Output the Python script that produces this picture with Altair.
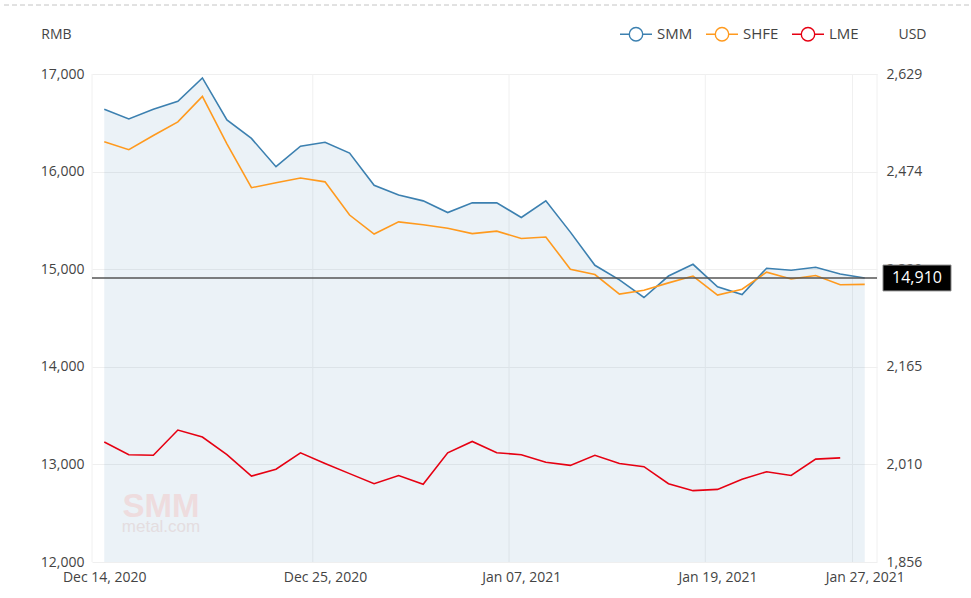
import altair as alt
import pandas as pd

# ---------------- data ----------------
DATES = [
    "2020-12-14", "2020-12-15", "2020-12-16", "2020-12-17", "2020-12-18",
    "2020-12-21", "2020-12-22", "2020-12-23", "2020-12-24", "2020-12-25",
    "2020-12-28", "2020-12-29", "2020-12-30", "2020-12-31",
    "2021-01-04", "2021-01-05", "2021-01-06", "2021-01-07", "2021-01-08",
    "2021-01-11", "2021-01-12", "2021-01-13", "2021-01-14", "2021-01-15",
    "2021-01-18", "2021-01-19", "2021-01-20", "2021-01-21", "2021-01-22",
    "2021-01-25", "2021-01-26", "2021-01-27",
]
SMM = [16640, 16540, 16640, 16720, 16960, 16530, 16340, 16050, 16260, 16300,
       16190, 15860, 15760, 15700, 15580, 15680, 15680, 15530, 15700, 15380,
       15040, 14890, 14710, 14930, 15050, 14820, 14740, 15010, 14990, 15020,
       14950, 14910]
SHFE = [16305, 16225, 16370, 16510, 16770, 16285, 15835, 15885, 15935, 15895,
        15555, 15360, 15485, 15455, 15420, 15365, 15390, 15315, 15330, 15000,
        14945, 14745, 14785, 14860, 14930, 14735, 14795, 14970, 14900, 14935,
        14840, 14845]
LME = [2046, 2026, 2025, 2065, 2054, 2026, 1992, 2003, 2029, 2012,
       1996, 1980, 1993, 1979, 2029, 2047, 2029, 2026, 2014, 2009,
       2025, 2012, 2007, 1980, 1969, 1971, 1987, 1999, 1993, 2019,
       2021]
SERIES = ["SMM", "SHFE", "LME"]
COLORS = ["#3c80b0", "#ff9a1e", "#e60012"]
X_TICK_DATES = ["2020-12-14", "2020-12-25", "2021-01-07", "2021-01-19", "2021-01-27"]
LEFT_DOMAIN = [12000, 17000]
LEFT_TICKS = [12000, 13000, 14000, 15000, 16000, 17000]
RIGHT_DOMAIN = [1856, 2629]
RIGHT_TICKS = [1856, 2010, 2165, 2320, 2474, 2629]

# ---------------- layout ----------------
W, H = 785, 488
FONT = "Open Sans"
TXT = "#444444"
n = len(DATES)

tick_idx = [DATES.index(d) for d in X_TICK_DATES]
tick_lab = [pd.Timestamp(d).strftime("%b %d, %Y") for d in X_TICK_DATES]
label_expr = "''"
for idx, lab in reversed(list(zip(tick_idx, tick_lab))):
    label_expr = f"datum.value == {idx} ? '{lab}' : ({label_expr})"

df_left = pd.DataFrame({
    "i": list(range(n)) * 2,
    "v": SMM + SHFE,
    "series": ["SMM"] * n + ["SHFE"] * n,
})
df_area = pd.DataFrame({"i": list(range(n)), "v": SMM})
df_lme = pd.DataFrame({"i": list(range(len(LME))), "v": LME, "series": ["LME"] * len(LME)})
df_vgrid = pd.DataFrame({"i": [t - 0.5 for t in tick_idx] + [n - 0.5]})
df_mark = pd.DataFrame({"v": [SMM[-1]]})
df_one = pd.DataFrame({"a": [0]})

x_enc = alt.X(
    "i:Q",
    scale=alt.Scale(domain=[-0.5, n - 0.5], nice=False, zero=False),
    axis=alt.Axis(values=tick_idx, labelExpr=label_expr, grid=False, domain=False,
                  ticks=False, labelPadding=8, labelFontSize=14, title=None,
                  labelFlush=False, labelOverlap=False),
)
y_left = alt.Y(
    "v:Q",
    scale=alt.Scale(domain=LEFT_DOMAIN, nice=False, zero=False),
    axis=alt.Axis(values=LEFT_TICKS, format=",d", title="RMB", titleAngle=0,
                  titleX=-36, titleY=-40, titleAlign="center", titleBaseline="middle",
                  grid=True, gridColor="#efefef", domain=False, ticks=False,
                  labelPadding=8, labelFontSize=14),
)
y_right = alt.Y(
    "v:Q",
    scale=alt.Scale(domain=RIGHT_DOMAIN, nice=False, zero=False),
    axis=alt.Axis(orient="right", values=RIGHT_TICKS, format=",d", title="USD",
                  titleAngle=0, titleX=35, titleY=-40, titleAlign="center",
                  titleBaseline="middle", grid=False, domain=False, ticks=False,
                  labelPadding=9, labelFontSize=14),
)

LEG_PATH = ("M-1,0L-0.42,0M0.42,0L1,0"
            "M-0.42,0A0.42,0.42 0 1,1 0.42,0A0.42,0.42 0 1,1 -0.42,0Z")
color_enc = alt.Color(
    "series:N",
    scale=alt.Scale(domain=SERIES, range=COLORS),
    legend=alt.Legend(orient="none", legendX=527, legendY=-57, direction="horizontal",
                      title=None, symbolType=LEG_PATH, symbolSize=1024,
                      symbolStrokeWidth=1.4, symbolFillColor="white",
                      labelFontSize=15, labelOffset=4, columnPadding=10,
                      padding=0, labelColor=TXT, labelFont=FONT),
)

vgrid = alt.Chart(df_vgrid).mark_rule(color="#f0f0f0", strokeWidth=1).encode(x=x_enc)
area = alt.Chart(df_area).mark_area(color=COLORS[0], opacity=0.1).encode(
    x=x_enc, y=y_left, y2=alt.datum(LEFT_DOMAIN[0]))
lines = alt.Chart(df_left).mark_line(strokeWidth=1.6).encode(x=x_enc, y=y_left, color=color_enc)
markline = alt.Chart(df_mark).mark_rule(color="#555555", strokeWidth=1.6).encode(
    x=alt.value(0), x2=alt.value(W), y=y_left)
BOX_PATH = "M-1,-0.38L1,-0.38L1,0.38L-1,0.38Z"
box = alt.Chart(df_mark).mark_point(shape=BOX_PATH, size=68 * 68, filled=True,
                                    fill="black", stroke="#888888", strokeWidth=1,
                                    opacity=1).encode(x=alt.value(W + 40), y=y_left)
boxtext = alt.Chart(df_mark).mark_text(color="white", fontSize=16, font=FONT,
                                       baseline="middle").encode(
    x=alt.value(W + 40), y=y_left, text=alt.Text("v:Q", format=",d"))
wm1 = alt.Chart(df_one).mark_text(text="SMM", font="Liberation Sans", fontSize=33,
                                  fontWeight="bold", color="#eedcde", baseline="alphabetic").encode(
    x=alt.value(69), y=alt.value(443))
wm2 = alt.Chart(df_one).mark_text(text="metal.com", font="Liberation Sans", fontSize=17,
                                  color="#e4dde0", baseline="alphabetic").encode(
    x=alt.value(69), y=alt.value(458))
topline = alt.Chart(df_one).mark_rule(color="#c4c4c4", strokeDash=[5, 3], strokeWidth=1).encode(
    x=alt.value(-88), x2=alt.value(W + 94), y=alt.value(-69))

lme = alt.Chart(df_lme).mark_line(strokeWidth=1.6).encode(x=x_enc, y=y_right, color=color_enc)

left = alt.layer(vgrid, area, wm1, wm2, lines, markline, box, boxtext, topline)

chart = (
    alt.layer(left, lme)
    .resolve_scale(y="independent")
    .properties(width=W, height=H, autosize=alt.AutoSizeParams(type="none"),
                padding={"left": 92, "top": 74, "right": 94, "bottom": 36})
    .configure(font=FONT)
    .configure_view(stroke=None)
    .configure_axis(labelColor=TXT, titleColor=TXT, labelFont=FONT, titleFont=FONT,
                    titleFontWeight="normal", titleFontSize=14)
)

chart.save("out.html", embed_options={"renderer": "svg", "actions": False})
